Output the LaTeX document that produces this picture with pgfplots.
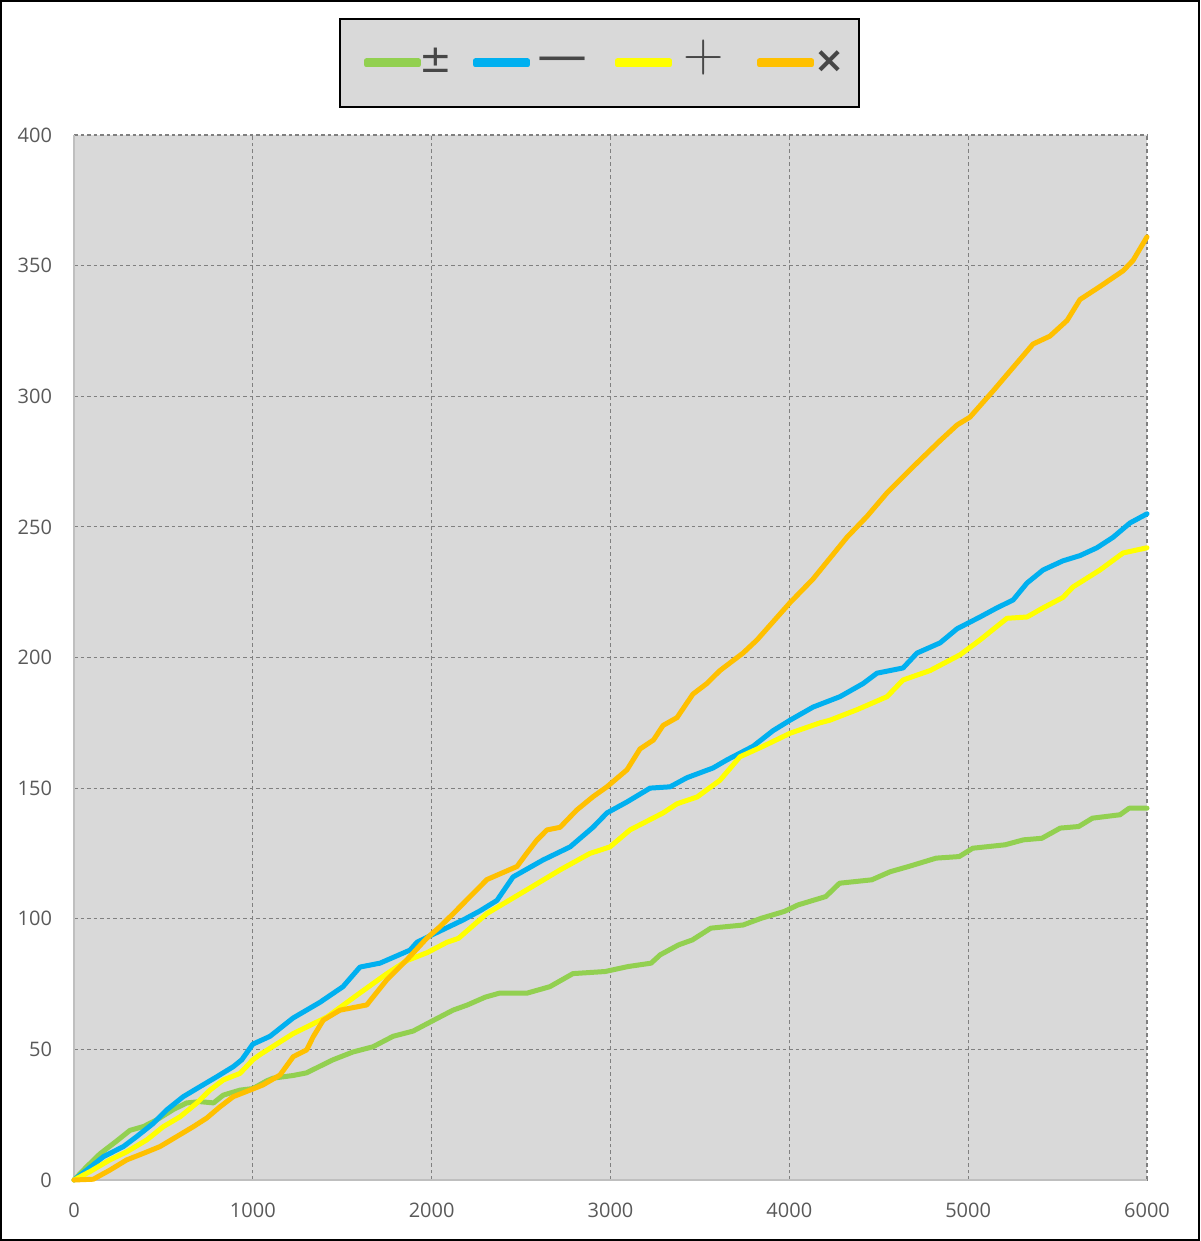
\documentclass[border=0pt]{standalone}
\usepackage{fontspec}
\usepackage{pgfplots}
\pgfplotsset{compat=1.18}
\newfontfamily\tickfont{Open Sans}
\newfontfamily\symfont{DejaVu Sans}
\definecolor{cgreen}{HTML}{92D050}
\definecolor{cblue}{HTML}{00B0F0}
\definecolor{cyellow}{HTML}{FFFF00}
\definecolor{corange}{HTML}{FFC000}
\definecolor{plotbg}{HTML}{D9D9D9}
\definecolor{gridc}{HTML}{808080}
\definecolor{axc}{HTML}{BFBFBF}
\definecolor{txt}{HTML}{595959}
\definecolor{symc}{HTML}{474747}
\newcommand\legsym[4]{\makebox[#1][l]{\hspace*{#2}\raisebox{#3}[22pt][22pt]{\color{symc}#4}}}

\pgfplotstableread{
x y
0 0
70 5
145 10
240 15
313 19
390 20.5
462 23
556 27
630 29.5
704 30
780 29.5
835 32.5
928 34.4
1000 35
1079 38
1115 39
1225 40
1300 41
1359 43
1448 46
1560 49
1672 51
1784 55
1896 57
2007 61
2119 65
2200 67
2300 70
2378 71.5
2532 71.5
2661 74
2790 79
2970 79.8
3098 81.7
3227 83
3278 86.2
3381 90
3458 91.9
3561 96.4
3741 97.6
3844 100.2
3972 102.8
4049 105.3
4204 108.5
4281 113.6
4461 114.9
4564 118
4667 120
4821 123.2
4950 123.8
5026 127
5206 128.3
5309 130.2
5412 130.8
5515 134.7
5618 135.3
5695 138.5
5849 139.8
5900 142.3
6000 142.3
}\greendata

\pgfplotstableread{
x y
0 0
71 3.8
164 8.9
276 12.8
350 16.6
444 21.7
518 26.8
611 31.9
704 35.7
798 39.5
891 43.4
938 46
1000 52
1096 55
1225 62
1375 68
1504 74
1599 81.5
1711 83
1879 88
1918 91
2007 94
2175 99.5
2270 103
2365 107
2455 116
2623 122.5
2774 127.5
2902 135
2980 140.5
3092 144.7
3221 150
3333 150.5
3428 154
3573 157.7
3651 160.8
3797 166
3909 172
4004 176
4132 181
4283 185
4412 190
4490 194
4636 196
4714 201.7
4843 205.6
4938 211
5066 215.5
5161 219
5251 222
5329 228.5
5419 233.5
5530 237
5625 239
5720 242
5810 246
5905 251.5
6000 255
}\bluedata

\pgfplotstableread{
x y
0 0
89 3.2
201 7.7
295 10.8
406 15.3
499 20.4
593 24.2
686 29.4
760 34.4
835 38.3
928 40.8
1000 46
1040 48
1225 56
1415 62.4
1599 71.6
1750 79
1862 84
1974 87
2086 91
2150 92.5
2309 102
2550 111.8
2718 118.7
2885 125
2997 127.5
3109 134
3294 140.5
3372 144
3484 146.6
3612 153
3724 162
3853 166
4004 171
4172 175
4227 176
4378 180
4546 185
4636 191.4
4787 195
4954 201
5066 206.7
5217 215
5329 215.5
5419 219
5530 223
5586 227
5737 233.5
5866 240
6000 242
}\yellowdata

\pgfplotstableread{
x y
0 0
108 0.3
201 3.8
295 7.7
388 10.2
481 12.8
574 16.6
667 20.4
742 23.7
816 28
891 31.9
984 34.4
1057 36.4
1152 40.2
1226 47.2
1301 49.8
1338 54.9
1394 61.2
1487 65
1637 67
1674 70.2
1749 76.6
1860 84.2
1972 92.5
2047 97
2121 102
2270 112.3
2309 115
2477 120
2531 125
2587 130
2645 134
2718 135
2811 141.6
2902 146.7
2980 150.5
3092 157
3165 165
3240 168.4
3294 174
3372 177
3461 186
3538 190
3612 195
3741 201.7
3819 206.7
4004 221
4132 230
4322 246
4434 254
4546 263
4692 273
4843 283
4938 289
5010 292
5139 302
5251 311
5363 320
5457 323
5553 329
5625 337
5737 342
5866 348
5922 352
6000 361
}\orangedata

\begin{document}
\begin{tikzpicture}
\useasboundingbox (0,0) rectangle (600pt,620.5pt);
\draw[black, line width=1pt] (0.5pt,0.5pt) rectangle (599.5pt,620pt);
\begin{axis}[
  at={(37pt,30.5pt)}, anchor=south west,
  scale only axis, width=536.5pt, height=522.5pt,
  xmin=0, xmax=6000, ymin=0, ymax=400,
  xtick={0,1000,...,6000}, ytick={0,50,...,400},
  scaled ticks=false,
  /pgf/number format/assume math mode=true,
  /pgf/number format/1000 sep={},
  ticklabel style={font=\tickfont\fontsize{10}{12}\selectfont, text=txt},
  yticklabel style={xshift=-7.5pt},
  xticklabel style={yshift=-8pt},
  major tick length=0pt,
  axis x line*=bottom, axis y line*=left,
  axis line style={-, draw=axc, line width=0.75pt},
  grid=major,
  major grid style={gridc, dash pattern=on 1.75pt off 1.5pt, line width=0.55pt},
  axis background/.style={fill=plotbg},
  clip=false,
  every axis plot/.append style={line width=2.5pt, line join=round, line cap=round},
  legend columns=4,
  legend cell align=left,
  legend image code/.code={\draw[#1, line width=1.75pt, line cap=round, overlay] (1pt,0pt) -- (25pt,0pt); \path (0pt,-1pt) rectangle (26pt,1pt);},
  legend style={at={(0.247,1.112)}, anchor=north west, draw=black, line width=1pt, fill=plotbg,
    inner xsep=12pt, inner ysep=0pt, column sep=0pt,
    nodes={inner sep=0pt, text height=22pt, text depth=22pt}},
]
\addplot[cgreen] table[x=x,y=y] {\greendata};
\addlegendentry{\legsym{26pt}{-1pt}{-5pt}{\symfont\fontsize{19.5}{19.5}\selectfont ±}}
\addplot[cblue] table[x=x,y=y] {\bluedata};
\addlegendentry{\legsym{42.5pt}{3.5pt}{-4.7pt}{\symfont\fontsize{25}{25}\selectfont —}}
\addplot[cyellow] table[x=x,y=y] {\yellowdata};
\addlegendentry{\legsym{42.5pt}{5.8pt}{-4.2pt}{\fontsize{28}{28}\selectfont +}}
\addplot[corange] table[x=x,y=y] {\orangedata};
\addlegendentry{\legsym{10.5pt}{0.3pt}{-4.9pt}{\symfont\bfseries\fontsize{18}{18}\selectfont ×}}
\end{axis}
\end{tikzpicture}
\end{document}
